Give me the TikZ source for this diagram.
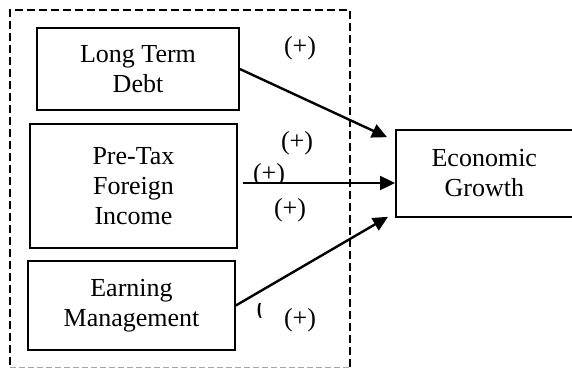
\documentclass[tikz,border=0pt]{standalone}
\usepackage{fontspec}
\setmainfont{Liberation Serif}
\usetikzlibrary{arrows.meta}

\begin{document}
\begin{tikzpicture}[x=1pt,y=-1pt,
    box/.style={draw,line width=1.6pt,align=center,inner sep=0pt},
    sign/.style={inner sep=0pt},
    arr/.style={line width=2.4pt,-{Triangle[length=15pt,width=14pt]}},
    font=\fontsize{26}{30}\selectfont]
  \useasboundingbox (0,0) rectangle (572,369);
  \draw[line width=1.8pt,dash pattern=on 8pt off 4pt] (350,367) -- (350,10) -- (10,10) -- (10,367);
  \draw[line width=1pt,gray!70,dash pattern=on 6pt off 3pt] (10,367) -- (350,367);
  \node[box,minimum width=202pt,minimum height=82pt] (ltd) at (138,69) {Long Term\\Debt};
  \node[box,minimum width=207pt,minimum height=124pt] (pti) at (133.5,186) {Pre-Tax\\Foreign\\Income};
  \node[box,minimum width=207pt,minimum height=89pt] (ear) at (131.5,305.5) {Earning\\Management};
  \node[box,minimum width=180pt,minimum height=87pt,anchor=west] (eg) at (395,173.5) {\hspace*{-3pt}Economic\\\hspace*{-3pt}Growth};
  \coordinate (m0) at (243,183);
  \coordinate (m1) at (335,183);
  \node[sign] (s1) at (300,48) {(+)};
  \node[sign] (s2) at (297,143) {(+)};
  \begin{scope}
    \clip (250,150) rectangle (300,182);
    \node[sign] (s3) at (269,175) {(+)};
  \end{scope}
  \node[sign] (s4) at (290,210) {(+)};
  \begin{scope}
    \clip (255,303) rectangle (268,317);
    \node[sign] (s5) at (261,310) {(};
  \end{scope}
  \node[sign] (s6) at (300,320) {(+)};
  \draw[arr] (ltd.east) -- ([shift={(-8,8)}]eg.north west);
  \draw[line width=1.2pt] (m0) -- (m1);
  \draw[line width=2.4pt] (m0) -- ++(10,0);
  \draw[arr] (m1) -- (m1 -| eg.west);
  \draw[arr] (ear.east) -- ([shift={(-7,-1)}]eg.south west);
\end{tikzpicture}
\end{document}
